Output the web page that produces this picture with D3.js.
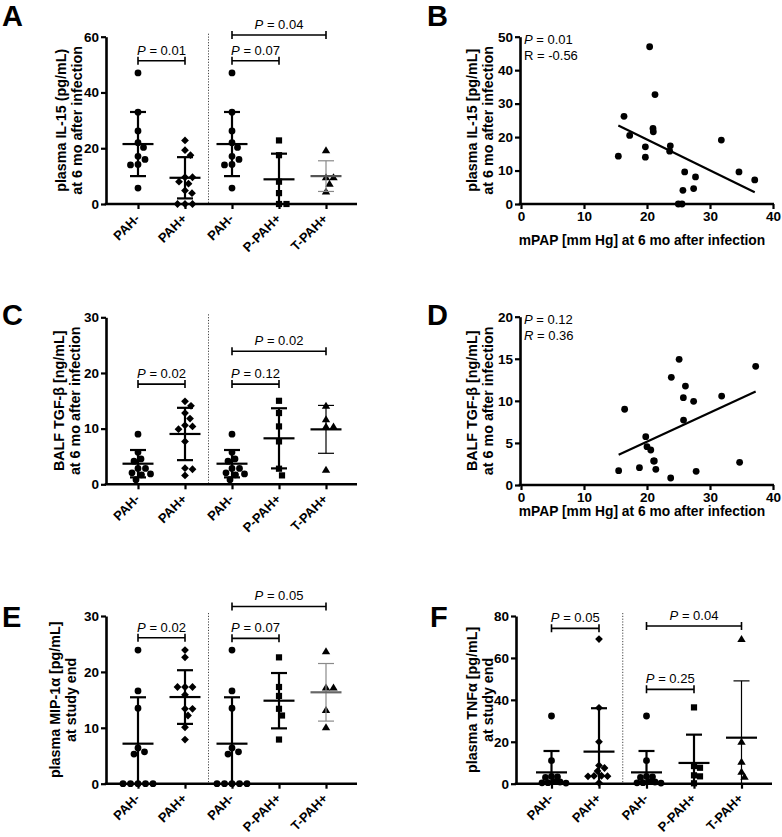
<!DOCTYPE html>
<html><head><meta charset="utf-8">
<script src="https://cdn.jsdelivr.net/npm/d3@7"></script>
<style>
body{margin:0;background:#fff;}
svg{font-family:"Liberation Sans",Arial,Helvetica,sans-serif;}
</style></head><body>
<svg id="c" width="782" height="837"></svg>
<script>
// ---------- DATA ----------
const categories = ["PAH-", "PAH+", "PAH-", "P-PAH+", "T-PAH+"];
const shapes = ["circle", "diamond", "circle", "square", "triangle"];

// Panel A: plasma IL-15 (pg/mL)
const il15_pahNeg = [47.0, 32.9, 26.2, 22.0, 20.3, 17.1, 16.0, 14.2, 14.0, 5.7];
const il15_pahPos = [22.8, 19.3, 17.5, 9.6, 9.6, 8.0, 7.3, 4.8, 3.9, 0, 0, 0];
const il15_pPah = [22.8, 17.5, 8.0, 3.9, 0, 0];
const il15_tPah = [19.3, 9.6, 9.6, 7.3, 4.5];
const il15_mean = [21.5, 9.4, 21.5, 8.85, 10.0];
const il15_sd = [11.5, 7.4, 11.5, 9.2, 5.5];
const il15_ticks = [0, 20, 40, 60];
const il15_pLabels = ["0.01", "0.07", "0.04"];
const il15_pPairs = [[0, 1], [2, 3], [2, 4]];
const il15_pLevels = [51.4, 51.4, 60.6];

// Panel B: IL-15 vs mPAP
const il15_mpap = [15.45, 16.35, 17.25, 19.74, 19.74, 20.42, 20.95, 21.0, 21.27, 23.7, 23.6, 24.97, 25.56, 25.7, 25.98, 27.4, 27.7, 31.8, 34.6, 37.1];
const il15_corr = [14.3, 26.2, 20.5, 17.1, 14.0, 47.0, 22.6, 21.6, 32.7, 17.4, 15.8, 0, 0, 4.1, 9.6, 4.6, 8.1, 19.1, 9.6, 7.2];
const il15_stats = ["0.01", "-0.56"];
const b_yTicks = [0, 10, 20, 30, 40, 50];
const mpap_ticks = [0, 10, 20, 30, 40];

// Panel C: BALF TGF-beta (ng/mL)
const tgf_pahNeg = [9.0, 5.74, 4.55, 4.16, 2.85, 2.85, 2.06, 1.86, 1.7, 0.83];
const tgf_pahPos = [14.9, 14.1, 12.8, 11.8, 10.6, 10.4, 9.9, 7.7, 2.9, 2.7, 1.6];
const tgf_pPah = [15.0, 12.8, 10.4, 7.7, 2.8, 1.6];
const tgf_tPah = [14.1, 11.7, 10.4, 10.4, 2.6];
const tgf_mean = [3.7, 9.04, 3.7, 8.26, 9.87];
const tgf_sd = [2.46, 4.7, 2.46, 5.4, 4.3];
const tgf_ticks = [0, 10, 20, 30];
const tgf_pLabels = ["0.02", "0.12", "0.02"];
const tgf_pPairs = [[0, 1], [2, 3], [2, 4]];
const tgf_pLevels = [18.0, 18.0, 23.9];

// Panel D: TGF-beta vs mPAP
const tgf_mpap = [15.5, 16.45, 18.8, 19.8, 20.0, 20.6, 21.05, 21.16, 21.4, 23.76, 23.86, 25.1, 25.77, 25.8, 26.1, 27.4, 27.8, 31.85, 34.7, 37.25];
const tgf_corr = [1.7, 9.0, 2.06, 5.74, 4.55, 4.16, 2.85, 2.85, 1.86, 0.83, 12.8, 14.93, 10.38, 7.72, 11.76, 9.94, 1.62, 10.57, 2.69, 14.1];
const tgf_stats = ["0.12", "0.36"];
const d_yTicks = [0, 5, 10, 15, 20];

// Panel E: plasma MIP-1a (pg/mL)
const mip_pahNeg = [23.9, 16.6, 13.5, 6.4, 5.7, 5.3, 0, 0, 0, 0, 0];
const mip_pahPos = [23.9, 22.6, 17.3, 17.3, 17.3, 15.9, 13.4, 13.4, 12.2, 10.1, 7.9];
const mip_pPah = [22.6, 17.3, 15.7, 13.4, 12.2, 7.9];
const mip_tPah = [23.7, 17.2, 17.2, 13.2, 10.1];
const mip_mean = [7.16, 15.5, 7.16, 14.85, 16.35];
const mip_sd = [8.3, 4.8, 8.3, 4.95, 5.15];
const mip_ticks = [0, 10, 20, 30];
const mip_pLabels = ["0.02", "0.07", "0.05"];
const mip_pPairs = [[0, 1], [2, 3], [2, 4]];
const mip_pLevels = [26.1, 26.0, 31.7];

// Panel F: plasma TNFa (pg/mL)
const tnf_pahNeg = [32.3, 11.0, 3.5, 3.3, 3.0, 1.0, 0.8, 0.5, 0.4, 0.3];
const tnf_pahPos = [69.0, 36.2, 20.0, 8.7, 7.5, 6.0, 3.8, 3.7, 3.6, 3.5, 0.4];
const tnf_pPah = [36.4, 8.4, 7.6, 4.0, 3.5, 0.2];
const tnf_tPah = [69.0, 20.0, 10.5, 5.7, 3.3];
const tnf_mean = [5.4, 15.3, 5.4, 9.9, 21.95];
const tnf_sd = [10.2, 20.7, 10.2, 13.5, 27.1];
const tnf_ticks = [0, 20, 40, 60, 80];
const tnf_pLabels = ["0.05", "0.25", "0.04"];
const tnf_pPairs = [[0, 1], [2, 3], [2, 4]];
const tnf_pLevels = [74.1, 45.0, 75.2];

// ---------- DRAWING ----------
const svg = d3.select("#c");
const AXW = 2.6;

function markerPath(shape) {
  if (shape === "circle") return d3.symbol().type(d3.symbolCircle).size(Math.PI * 3.4 * 3.4)();
  if (shape === "square") { const h = 3.1; return `M${-h},${-h}H${h}V${h}H${-h}Z`; }
  if (shape === "diamond") { const h = 3.9; return `M0,${-h}L${h},0L0,${h}L${-h},0Z`; }
  return "M0,-4L4.2,3L-4.2,3Z";
}

function swarm(values, y, diam) {
  const placed = [], off = new Array(values.length);
  const order = values.map((v, i) => i).sort((a, b) => values[b] - values[a]);
  for (const i of order) {
    const py = y(values[i]);
    let chosen = 0;
    for (let k = 0; k < 400; k++) {
      const cand = k === 0 ? 0 : (k % 2 ? 1 : -1) * Math.ceil(k / 2) * 0.5;
      if (placed.every(p => Math.hypot(p.x - cand, p.y - py) >= diam)) { chosen = cand; break; }
    }
    off[i] = chosen; placed.push({ x: chosen, y: py });
  }
  return off;
}

function letter(t, x, y) {
  svg.append("text").attr("x", x).attr("y", y).attr("font-size", 29).attr("font-weight", "bold").text(t);
}

function yLabel(lines, xs, cy) {
  lines.forEach((l, i) => {
    svg.append("text").attr("transform", `translate(${xs[i]},${cy}) rotate(-90)`)
      .attr("text-anchor", "middle").attr("font-size", 14.3).attr("font-weight", "bold").text(l);
  });
}

function styleAxis(g) {
  g.selectAll("path.domain").attr("stroke", "#000").attr("stroke-width", AXW);
  g.selectAll(".tick line").attr("stroke", "#000").attr("stroke-width", 2.2);
  g.selectAll(".tick text").attr("font-size", 13.5).attr("font-weight", "bold").attr("fill", "#000")
    .attr("font-family", '"Liberation Sans",Arial,sans-serif');
}

function catPanel(p) {
  const g = svg.append("g");
  const y = d3.scaleLinear().domain(p.domain).range([p.yBot, p.yTop]);
  const x = d3.scalePoint().domain(d3.range(categories.length)).range([p.c0, p.c4]);

  // dotted separator
  const sepX = (x(1) + x(2)) / 2;
  g.append("line").attr("x1", sepX).attr("x2", sepX).attr("y1", p.yTop - 3).attr("y2", p.yBot)
    .attr("stroke", "#444").attr("stroke-width", 1).attr("stroke-dasharray", "1.2,1.6");

  // points
  p.groups.forEach((vals, gi) => {
    const offs = swarm(vals, y, p.diam || 7.2);
    g.append("g").selectAll("path").data(vals).join("path")
      .attr("d", markerPath(shapes[gi]))
      .attr("transform", (d, i) => `translate(${x(gi) + offs[i]},${y(d)})`)
      .attr("fill", "#000");
  });

  // error bars (mean ± SD)
  p.mean.forEach((m, gi) => {
    const cx = x(gi), thin = gi === 4;
    const wcol = thin ? p.thinColor : "#000";
    const ww = thin ? 1.2 : 2.2;
    const hi = m + p.sd[gi], lo = m - p.sd[gi];
    g.append("line").attr("x1", cx).attr("x2", cx).attr("y1", y(hi)).attr("y2", y(Math.max(lo, 0)))
      .attr("stroke", wcol).attr("stroke-width", ww);
    g.append("line").attr("x1", cx - 8).attr("x2", cx + 8).attr("y1", y(hi)).attr("y2", y(hi))
      .attr("stroke", wcol).attr("stroke-width", ww);
    if (lo > 0) g.append("line").attr("x1", cx - 8).attr("x2", cx + 8).attr("y1", y(lo)).attr("y2", y(lo))
      .attr("stroke", wcol).attr("stroke-width", ww);
    g.append("line").attr("x1", cx - 15.5).attr("x2", cx + 15.5).attr("y1", y(m)).attr("y2", y(m))
      .attr("stroke", thin ? p.thinMean : "#000").attr("stroke-width", 2.2);
  });

  // brackets
  p.pLabels.forEach((lab, i) => {
    const [a, b] = p.pPairs[i];
    const yy = y(p.pLevels[i]);
    const x1 = x(a), x2 = x(b);
    g.append("path").attr("d", `M${x1},${yy - 4}V${yy + 4}M${x1},${yy}H${x2}M${x2},${yy - 4}V${yy + 4}`)
      .attr("stroke", "#000").attr("stroke-width", 1.6).attr("fill", "none");
    const t = g.append("text").attr("x", (x1 + x2) / 2).attr("y", yy - 6).attr("text-anchor", "middle")
      .attr("font-size", 13);
    t.append("tspan").attr("font-style", "italic").text("P");
    t.append("tspan").text(" = " + lab);
  });

  // y axis
  const ya = g.append("g").attr("transform", `translate(${p.axX},0)`)
    .call(d3.axisLeft(y).tickValues(p.ticks).tickSize(5).tickSizeOuter(0).tickPadding(2).tickFormat(d3.format("d")));
  styleAxis(ya);
  // x axis
  const xa = g.append("g").attr("transform", `translate(0,${p.yBot})`)
    .call(d3.axisBottom(x).tickSize(5).tickSizeOuter(0).tickFormat(i => categories[i]));
  xa.select("path.domain").remove();
  styleAxis(xa);
  xa.selectAll(".tick text").attr("font-size", 13).attr("x", 0).attr("y", 0).attr("dy", 0)
    .attr("text-anchor", "end").attr("transform", "translate(2,15.5) rotate(-45)");
  g.append("line").attr("x1", p.axX - AXW / 2).attr("x2", p.axEnd).attr("y1", p.yBot).attr("y2", p.yBot)
    .attr("stroke", "#000").attr("stroke-width", AXW);

  letter(p.letter, p.lx, p.ly);
  yLabel(p.ylab, p.ylabX, (p.yTop + p.yBot) / 2);
}

function scatterPanel(p) {
  const g = svg.append("g");
  const x = d3.scaleLinear().domain([0, 40]).range([p.x0, p.x1]);
  const y = d3.scaleLinear().domain(p.domain).range([p.yBot, p.yTop]);

  g.append("g").selectAll("circle").data(p.xs).join("circle")
    .attr("cx", d => x(d)).attr("cy", (d, i) => y(p.ys[i])).attr("r", 3.4).attr("fill", "#000");

  // least-squares fit
  const mx = d3.mean(p.xs), my = d3.mean(p.ys);
  let sxy = 0, sxx = 0;
  p.xs.forEach((v, i) => { sxy += (v - mx) * (p.ys[i] - my); sxx += (v - mx) * (v - mx); });
  const slope = sxy / sxx, icpt = my - slope * mx;
  const [xmin, xmax] = d3.extent(p.xs);
  g.append("line").attr("x1", x(xmin)).attr("x2", x(xmax)).attr("y1", y(icpt + slope * xmin)).attr("y2", y(icpt + slope * xmax))
    .attr("stroke", "#000").attr("stroke-width", 2.2);

  const ya = g.append("g").attr("transform", `translate(${p.x0 - 1},0)`)
    .call(d3.axisLeft(y).tickValues(p.yTicks).tickSize(5).tickSizeOuter(0).tickPadding(2));
  styleAxis(ya);
  const xa = g.append("g").attr("transform", `translate(0,${p.yBot})`)
    .call(d3.axisBottom(x).tickValues(mpap_ticks).tickSize(5).tickSizeOuter(0).tickPadding(2));
  styleAxis(xa);
  xa.select("path.domain").remove();
  g.append("line").attr("x1", p.x0 - 1 - AXW / 2).attr("x2", p.x1 + 1).attr("y1", p.yBot).attr("y2", p.yBot)
    .attr("stroke", "#000").attr("stroke-width", AXW);

  const t1 = g.append("text").attr("x", p.x0 + 3).attr("y", p.yTop + 7).attr("font-size", 13);
  t1.append("tspan").attr("font-style", "italic").text("P");
  t1.append("tspan").text(" = " + p.stats[0]);
  const t2 = g.append("text").attr("x", p.x0 + 3).attr("y", p.yTop + 23).attr("font-size", 13);
  t2.append("tspan").attr("font-style", p.rItalic ? "italic" : "normal").text("R");
  t2.append("tspan").text(" = " + p.stats[1]);

  g.append("text").attr("x", p.xlabX).attr("y", p.xlabY).attr("text-anchor", "middle")
    .attr("font-size", 13.8).attr("font-weight", "bold").text("mPAP [mm Hg] at 6 mo after infection");

  letter(p.letter, p.lx, p.ly);
  yLabel(p.ylab, p.ylabX, (p.yTop + p.yBot) / 2);
}

catPanel({
  letter: "A", lx: 2, ly: 26, axX: 106, axEnd: 357, yTop: 36.7, yBot: 204, c0: 138, c4: 326,
  domain: [0, 60], ticks: il15_ticks,
  groups: [il15_pahNeg, il15_pahPos, il15_pahNeg, il15_pPah, il15_tPah],
  mean: il15_mean, sd: il15_sd, pLabels: il15_pLabels, pPairs: il15_pPairs, pLevels: il15_pLevels,
  thinColor: "#8a8a8a", thinMean: "#555",
  ylab: ["plasma IL-15 (pg/mL)", "at 6 mo after infection"], ylabX: [65.5, 81.5]
});
scatterPanel({
  letter: "B", lx: 427, ly: 26, x0: 521, x1: 773, yTop: 36.7, yBot: 204, domain: [0, 50], yTicks: b_yTicks,
  xs: il15_mpap, ys: il15_corr, stats: il15_stats, rItalic: false,
  ylab: ["plasma IL-15 [pg/mL]", "at 6 mo after infection"], ylabX: [476.5, 492.5], xlabX: 642, xlabY: 245
});
catPanel({
  letter: "C", lx: 2, ly: 325, axX: 106, axEnd: 357, yTop: 317.3, yBot: 484.3, c0: 138, c4: 326,
  domain: [0, 30], ticks: tgf_ticks,
  groups: [tgf_pahNeg, tgf_pahPos, tgf_pahNeg, tgf_pPah, tgf_tPah],
  mean: tgf_mean, sd: tgf_sd, pLabels: tgf_pLabels, pPairs: tgf_pPairs, pLevels: tgf_pLevels,
  thinColor: "#000", thinMean: "#000",
  ylab: ["BALF TGF-β [ng/mL]", "at 6 mo after infection"], ylabX: [64, 80]
});
scatterPanel({
  letter: "D", lx: 427, ly: 325, x0: 521, x1: 773, yTop: 316.7, yBot: 485, domain: [0, 20], yTicks: d_yTicks,
  xs: tgf_mpap, ys: tgf_corr, stats: tgf_stats, rItalic: true,
  ylab: ["BALF TGF-β [ng/mL]", "at 6 mo after infection"], ylabX: [477, 493], xlabX: 642, xlabY: 516
});
catPanel({
  letter: "E", lx: 2, ly: 627, axX: 106, axEnd: 357, yTop: 616, yBot: 783.7, c0: 138, c4: 326,
  domain: [0, 30], ticks: mip_ticks,
  groups: [mip_pahNeg, mip_pahPos, mip_pahNeg, mip_pPah, mip_tPah],
  mean: mip_mean, sd: mip_sd, pLabels: mip_pLabels, pPairs: mip_pPairs, pLevels: mip_pLevels,
  thinColor: "#8a8a8a", thinMean: "#666",
  ylab: ["plasma MIP-1α [pg/mL]", "at study end"], ylabX: [59.5, 75.5]
});
catPanel({
  letter: "F", lx: 430, ly: 627, axX: 516, axEnd: 772, yTop: 616, yBot: 783.7, c0: 551.5, c4: 741.5,
  domain: [0, 80], ticks: tnf_ticks, diam: 5.8,
  groups: [tnf_pahNeg, tnf_pahPos, tnf_pahNeg, tnf_pPah, tnf_tPah],
  mean: tnf_mean, sd: tnf_sd, pLabels: tnf_pLabels, pPairs: tnf_pPairs, pLevels: tnf_pLevels,
  thinColor: "#000", thinMean: "#000",
  ylab: ["plasma TNFα [pg/mL]", "at study end"], ylabX: [476.5, 493]
});
</script>
</body></html>
